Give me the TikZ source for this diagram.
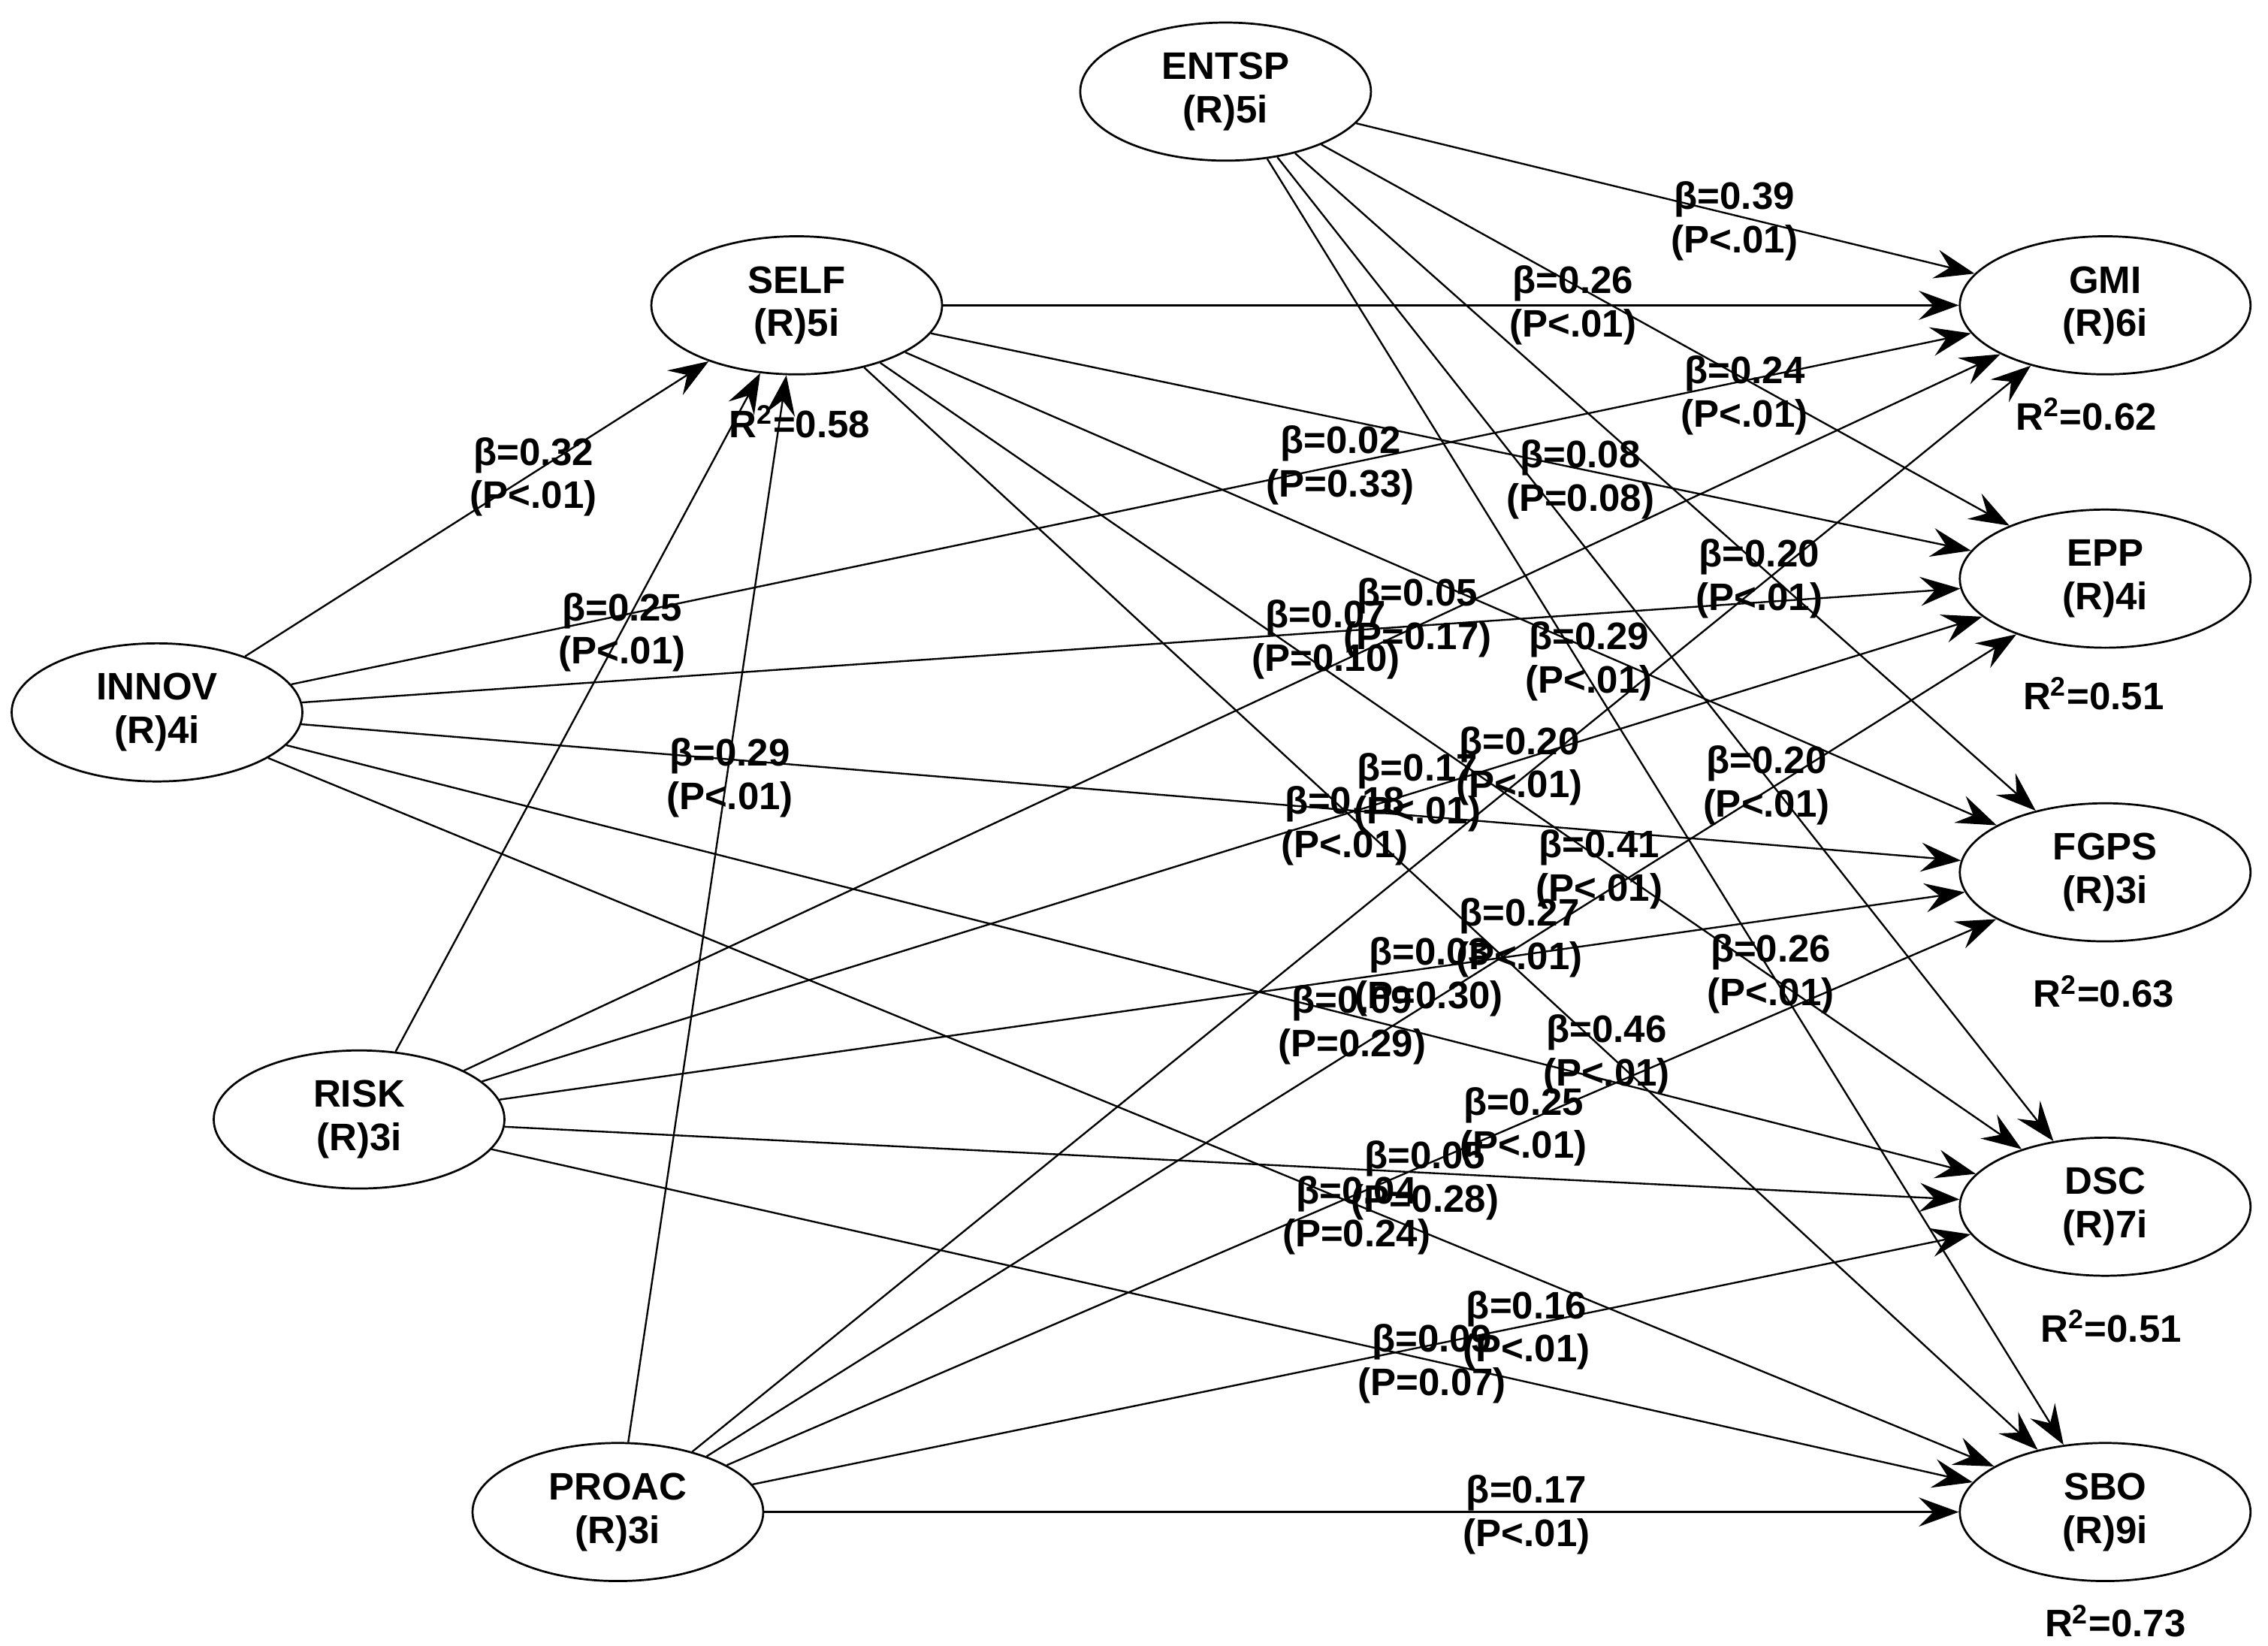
\documentclass[tikz,border=0pt]{standalone}
\usepackage{fontspec}
\setmainfont{Liberation Sans}
\usetikzlibrary{arrows.meta,shapes.geometric}
\begin{document}
\begin{tikzpicture}[x=0.02cm,y=-0.02cm,font=\fontsize{15}{17}\selectfont\bfseries]
\tikzstyle{lv} = [ellipse, draw=black, line width=0.8pt, minimum width=4cm, minimum height=1.9cm, inner sep=0pt, align=center]
\tikzstyle{pth} = [line width=0.7pt, -{Stealth[length=0.55cm,width=0.4cm,inset=0.2cm]}]
\tikzstyle{lb} = [align=center, inner sep=0pt]
\useasboundingbox (0,0) rectangle (1560,1132);
% latent variables
\node (ENTSP)[lv] at (843,63) {ENTSP\\(R)5i};
\node (SELF) [lv] at (548,210) {SELF\\(R)5i};
\node (INNOV)[lv] at (108,490) {INNOV\\(R)4i};
\node (RISK) [lv] at (247,770) {RISK\\(R)3i};
\node (PROAC)[lv] at (425,1040) {PROAC\\(R)3i};
\node (GMI)  [lv] at (1448,210) {GMI\\(R)6i};
\node (EPP)  [lv] at (1448,398) {EPP\\(R)4i};
\node (FGPS) [lv] at (1448,600) {FGPS\\(R)3i};
\node (DSC)  [lv] at (1448,830) {DSC\\(R)7i};
\node (SBO)  [lv] at (1448,1040) {SBO\\(R)9i};
% R squared
\node (rSELF)[lb] at (550,290) {R\textsuperscript{2}=0.58};
\node (rGMI) [lb] at (1435,285) {R\textsuperscript{2}=0.62};
\node (rEPP) [lb] at (1440,477) {R\textsuperscript{2}=0.51};
\node (rFGPS)[lb] at (1447,682) {R\textsuperscript{2}=0.63};
\node (rDSC) [lb] at (1452,912) {R\textsuperscript{2}=0.51};
\node (rSBO) [lb] at (1455,1115) {R\textsuperscript{2}=0.73};
% paths
\draw[pth] (INNOV) -- (SELF);
\draw[pth] (RISK) -- (SELF);
\draw[pth] (PROAC) -- (SELF);
\draw[pth] (ENTSP) -- (GMI);
\draw[pth] (ENTSP) -- (EPP);
\draw[pth] (ENTSP) -- (FGPS);
\draw[pth] (ENTSP) -- (DSC);
\draw[pth] (ENTSP) -- (SBO);
\draw[pth] (SELF) -- (GMI);
\draw[pth] (SELF) -- (EPP);
\draw[pth] (SELF) -- (FGPS);
\draw[pth] (SELF) -- (DSC);
\draw[pth] (SELF) -- (SBO);
\draw[pth] (INNOV) -- (GMI);
\draw[pth] (INNOV) -- (EPP);
\draw[pth] (INNOV) -- (FGPS);
\draw[pth] (INNOV) -- (DSC);
\draw[pth] (INNOV) -- (SBO);
\draw[pth] (RISK) -- (GMI);
\draw[pth] (RISK) -- (EPP);
\draw[pth] (RISK) -- (FGPS);
\draw[pth] (RISK) -- (DSC);
\draw[pth] (RISK) -- (SBO);
\draw[pth] (PROAC) -- (GMI);
\draw[pth] (PROAC) -- (EPP);
\draw[pth] (PROAC) -- (FGPS);
\draw[pth] (PROAC) -- (DSC);
\draw[pth] (PROAC) -- (SBO);
% coefficients
\node[lb] at (1193,152) {β=0.39\\(P<.01)};
\node[lb] at (1082,210) {β=0.26\\(P<.01)};
\node[lb] at (1200,272) {β=0.24\\(P<.01)};
\node[lb] at (367,328) {β=0.32\\(P<.01)};
\node[lb] at (922,320) {β=0.02\\(P=0.33)};
\node[lb] at (1087,330) {β=0.08\\(P=0.08)};
\node[lb] at (428,435) {β=0.25\\(P<.01)};
\node[lb] at (912,440) {β=0.07\\(P=0.10)};
\node[lb] at (975,425) {β=0.05\\(P=0.17)};
\node[lb] at (1210,398) {β=0.20\\(P<.01)};
\node[lb] at (1093,455) {β=0.29\\(P<.01)};
\node[lb] at (502,535) {β=0.29\\(P<.01)};
\node[lb] at (975,545) {β=0.17\\(P<.01)};
\node[lb] at (1045,527) {β=0.20\\(P<.01)};
\node[lb] at (925,568) {β=0.18\\(P<.01)};
\node[lb] at (1215,540) {β=0.20\\(P<.01)};
\node[lb] at (1100,598) {β=0.41\\(P<.01)};
\node[lb] at (1045,645) {β=0.27\\(P<.01)};
\node[lb] at (983,672) {β=0.03\\(P=0.30)};
\node[lb] at (1218,670) {β=0.26\\(P<.01)};
\node[lb] at (930,705) {β=0.09\\(P=0.29)};
\node[lb] at (1105,725) {β=0.46\\(P<.01)};
\node[lb] at (1048,775) {β=0.25\\(P<.01)};
\node[lb] at (980,812) {β=0.05\\(P=0.28)};
\node[lb] at (933,836) {β=0.04\\(P=0.24)};
\node[lb] at (1050,915) {β=0.16\\(P<.01)};
\node[lb] at (985,938) {β=0.09\\(P=0.07)};
\node[lb] at (1050,1042) {β=0.17\\(P<.01)};
\end{tikzpicture}
\end{document}
